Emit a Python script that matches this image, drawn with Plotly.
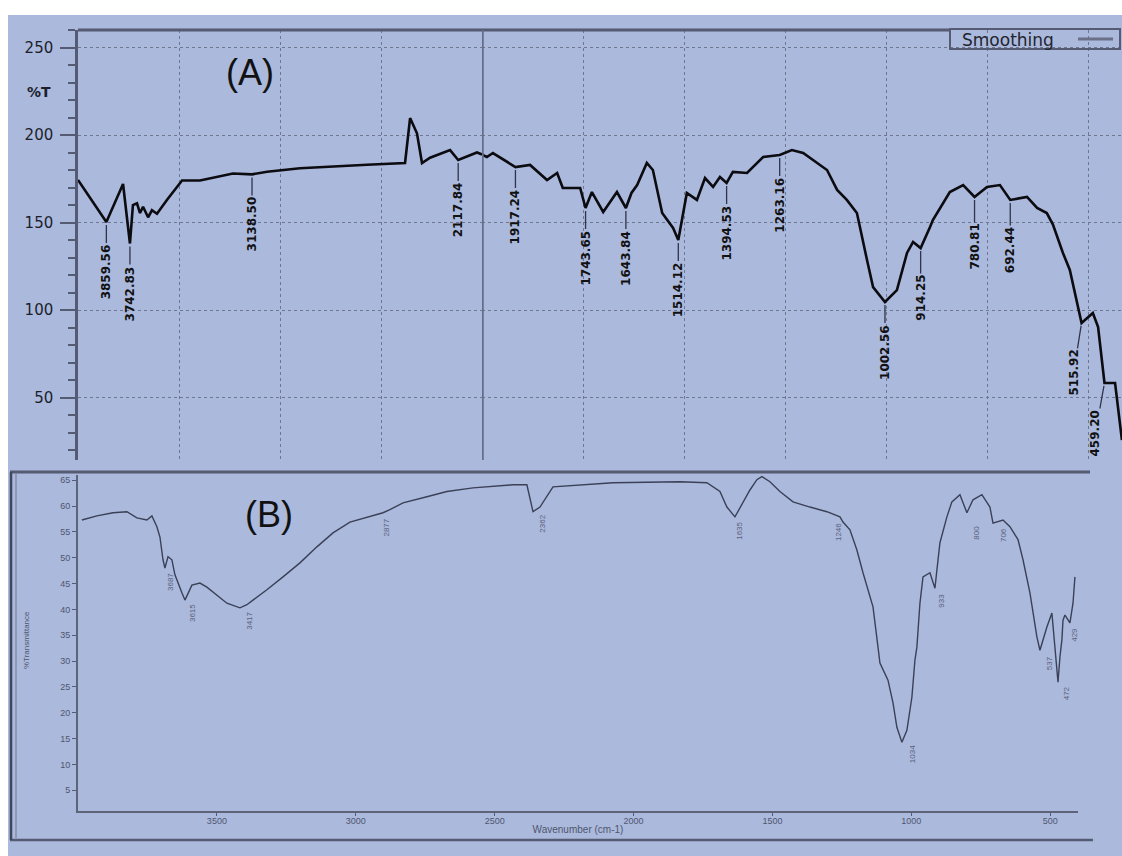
import plotly.graph_objects as go

W, H = 1122, 856


def fx(p):
    return p / W


def fy(p):
    return 1 - p / H


BG = "#ABB9DD"
DARK = "#1c1f2b"
FRAME = "#555b72"
GRID = "#6f7690"

# ---------------- Panel A: smoothed spectrum (%T) ----------------
a_wavenumber = [
    4000, 3859.56, 3777, 3742.83, 3728, 3708, 3693, 3678, 3653, 3634, 3609,
    3559, 3485, 3396, 3233, 3138.50, 3064, 2901, 2569, 2381, 2356, 2322, 2297,
    2257, 2158, 2117.84, 2025, 2000, 1988, 1973, 1917.24, 1881, 1839, 1814,
    1800, 1757, 1743.65, 1728, 1700, 1666, 1643.84, 1630, 1616, 1592, 1577,
    1554, 1527, 1514.12, 1493, 1468, 1448, 1428, 1411, 1394.53, 1379, 1344,
    1304, 1263.16, 1233, 1205, 1171, 1146, 1121, 1097, 1072, 1064, 1047, 1032,
    1002.56, 973, 948, 933, 914.25, 891, 884, 842, 809, 780.81, 750, 718,
    692.44, 651, 626, 602, 587, 562, 545, 515.92, 488, 475, 463, 459.20, 433,
    416,
]
a_transmittance = [
    174.3, 150.3, 172.0, 138.0, 160.0, 161.0, 155.4, 159.0, 153.0, 157.0, 155.0,
    163.0, 174.0, 174.0, 178.0, 177.5, 179.0, 181.0, 183.0, 184.0, 209.7, 201.0,
    184.0, 187.0, 191.4, 185.7, 190.0, 188.9, 187.4, 189.7, 181.7, 182.9, 174.3,
    178.3, 169.7, 169.7, 158.3, 167.4, 156.0, 167.4, 158.3, 166.9, 171.4, 184.0,
    180.0, 155.4, 146.9, 140.0, 166.9, 162.9, 175.4, 170.3, 176.0, 172.6, 178.9,
    178.3, 187.4, 188.6, 191.4, 189.7, 184.0, 180.0, 168.6, 162.9, 155.4, 147.4,
    128.6, 113.1, 104.6, 111.4, 132.6, 138.9, 135.4, 147.4, 151.4, 167.4, 171.4,
    164.6, 170.3, 171.4, 162.9, 164.6, 158.3, 155.4, 149.0, 132.6, 122.9, 92.6,
    98.3, 90.3, 64.0, 58.3, 58.3, 25.7,
]
a_peaks = [
    3859.56, 3742.83, 3138.50, 2117.84, 1917.24, 1743.65, 1643.84, 1514.12,
    1394.53, 1263.16, 1002.56, 914.25, 780.81, 692.44, 515.92, 459.20,
]
a_label_dx = [0, 0, 0, 0, 0, 0, 0, 0, 0, 0, 0, 0, 0, 0, -8, -9]
a_yticks = [50, 100, 150, 200, 250]
a_vgrid_high = [3500, 3000, 2500]
a_vgrid_low = [1750, 1500, 1250, 1000, 750, 500]

# ---------------- Panel B: %Transmittance ----------------
b_wavenumber = [
    3986, 3932, 3874, 3824, 3788, 3752, 3734, 3716, 3705, 3694, 3687, 3676,
    3662, 3651, 3626, 3615, 3590, 3561, 3536, 3500, 3464, 3417, 3392, 3370,
    3320, 3262, 3201, 3140, 3082, 3021, 2960, 2902, 2877, 2830, 2744, 2672,
    2578, 2434, 2384, 2362, 2337, 2290, 2074, 1833, 1736, 1689, 1664, 1635,
    1581, 1556, 1538, 1509, 1473, 1426, 1365, 1304, 1257, 1246, 1221, 1196,
    1174, 1138, 1120, 1113, 1084, 1066, 1052, 1034, 1016, 998, 987, 980, 969,
    958, 933, 915, 908, 897, 872, 854, 825, 800, 778, 746, 717, 706, 670, 645,
    616, 598, 573, 548, 537, 512, 494, 483, 472, 465, 458, 454, 447, 429, 418,
    411,
]
b_transmittance = [
    57.3, 58.1, 58.7, 58.9, 57.7, 57.3, 58.1, 56.0, 54.0, 49.6, 48.0, 50.2,
    49.6, 46.7, 43.2, 41.8, 44.7, 45.1, 44.3, 42.8, 41.2, 40.3, 40.9, 41.8,
    43.8, 46.3, 49.0, 52.1, 54.8, 56.9, 57.9, 58.7, 59.3, 60.6, 61.8, 62.8,
    63.5, 64.1, 64.1, 58.9, 59.8, 63.7, 64.5, 64.7, 64.5, 62.8, 59.8, 57.9,
    63.1, 65.1, 65.7, 64.7, 62.8, 60.8, 59.8, 58.9, 57.9, 56.9, 55.4, 51.5,
    47.1, 40.5, 32.7, 29.6, 26.3, 21.9, 17.2, 14.3, 16.6, 23.0, 30.2, 32.7, 41.2,
    46.3, 47.1, 44.1, 47.6, 52.9, 57.9, 60.8, 62.2, 58.7, 61.2, 62.2, 59.8,
    56.7, 57.3, 56.0, 53.5, 49.6, 43.2, 34.7, 32.1, 36.6, 39.3, 32.7, 25.9,
    30.8, 34.1, 37.9, 38.9, 37.4, 41.2, 46.3,
]
b_peaks = [3687, 3615, 3417, 2877, 2362, 1635, 1246, 1034, 933, 800, 706, 537, 472, 429]
b_label_shift = [
    (5, -14), (7, -13), (10, -13), (-3, -18), (10, -12), (5, -14), (-5, -10),
    (10, -12), (12, -28), (10, -20), (10, -12), (9, -13), (8, -11), (5, -12),
]
b_xticks = [3500, 3000, 2500, 2000, 1500, 1000, 500]
b_yticks = [5, 10, 15, 20, 25, 30, 35, 40, 45, 50, 55, 60, 65]

fig = go.Figure()

# Panel A is drawn on two x-axes: 4000-2000 compressed, 2000-400 expanded
hi_wn = [w for w in a_wavenumber if w >= 2000]
hi_t = [t for w, t in zip(a_wavenumber, a_transmittance) if w >= 2000]
lo_wn = [w for w in a_wavenumber if w <= 2000]
lo_t = [t for w, t in zip(a_wavenumber, a_transmittance) if w <= 2000]

line_a = dict(color="#0b0b10", width=2.6)
fig.add_trace(go.Scatter(x=hi_wn, y=hi_t, mode="lines", line=line_a,
                         xaxis="x", yaxis="y", showlegend=False, hoverinfo="skip"))
fig.add_trace(go.Scatter(x=lo_wn, y=lo_t, mode="lines", line=line_a,
                         xaxis="x2", yaxis="y", showlegend=False, hoverinfo="skip"))

fig.add_trace(go.Scatter(x=b_wavenumber, y=b_transmittance, mode="lines",
                         line=dict(color="#3a4056", width=1.4),
                         xaxis="x3", yaxis="y3", showlegend=False, hoverinfo="skip"))

a_top, a_bot = 30, 460
a_split = 482
px_per_unit_lo = 0.404
a_lo_end = 2000 - (W - a_split) / px_per_unit_lo

grid_common = dict(showgrid=True, gridcolor=GRID, griddash="dot", gridwidth=1.3,
                   zeroline=False)

fig.update_layout(
    width=W, height=H, autosize=False,
    margin=dict(l=0, r=0, t=0, b=0),
    paper_bgcolor=BG, plot_bgcolor="rgba(0,0,0,0)",
    font=dict(family="DejaVu Sans", color=DARK),
    xaxis=dict(domain=[fx(78), fx(a_split)], range=[4000, 2000], anchor="y",
               tickvals=a_vgrid_high, showticklabels=False, ticks="",
               showline=False, **grid_common),
    xaxis2=dict(domain=[fx(a_split), 1.0], range=[2000, a_lo_end], anchor="y",
                tickvals=a_vgrid_low, showticklabels=False, ticks="",
                showline=False, **grid_common),
    yaxis=dict(domain=[fy(a_bot), fy(a_top)], range=[14.3, 260], anchor="x",
               tickvals=a_yticks, ticks="outside", ticklen=15, tickwidth=2,
               tickcolor=FRAME, ticklabelstandoff=4,
               tickfont=dict(family="DejaVu Sans", size=15, color=DARK),
               showline=True, linecolor=FRAME, linewidth=2.5,
               minor=dict(tick0=0, dtick=10, ticks="outside", ticklen=7,
                          tickwidth=2, tickcolor=FRAME, showgrid=False),
               **grid_common),
    xaxis3=dict(domain=[fx(78), fx(1078)], range=[4000, 400], anchor="y3",
                tickvals=b_xticks, ticks="outside", ticklen=3, tickcolor=FRAME,
                ticklabelstandoff=-3,
                tickfont=dict(family="Liberation Sans", size=9, color="#4f566e"),
                showline=True, linecolor="#5d6379", linewidth=2,
                showgrid=False, zeroline=False,
                title=dict(text="Wavenumber (cm-1)", standoff=1,
                           font=dict(family="Liberation Sans", size=10, color="#4f566e"))),
    yaxis3=dict(domain=[fy(811), fy(475)], range=[1, 66], anchor="x3",
                tickvals=b_yticks, ticks="outside", ticklen=4, tickcolor=FRAME,
                tickfont=dict(family="Liberation Sans", size=9, color="#4f566e"),
                showline=True, linecolor="#5d6379", linewidth=2,
                showgrid=False, zeroline=False),
)

shapes = [
    # white scanner margins
    dict(type="rect", xref="paper", yref="paper", x0=0, x1=1, y0=fy(15), y1=1,
         fillcolor="white", line=dict(width=0), layer="below"),
    dict(type="rect", xref="paper", yref="paper", x0=0, x1=fx(8), y0=0, y1=1,
         fillcolor="white", line=dict(width=0), layer="below"),
    # panel A top frame and the scale-change divider at 2000
    dict(type="line", xref="paper", yref="paper", x0=fx(78), x1=fx(950),
         y0=fy(a_top), y1=fy(a_top), line=dict(color=FRAME, width=3)),
    dict(type="line", xref="x2", yref="paper", x0=2000, x1=2000,
         y0=fy(a_bot), y1=fy(a_top), line=dict(color="#676d86", width=3.5)),
    # legend box
    dict(type="rect", xref="paper", yref="paper", x0=fx(950), x1=fx(1120),
         y0=fy(49), y1=fy(29), line=dict(color=FRAME, width=2)),
    dict(type="line", xref="paper", yref="paper", x0=fx(1078), x1=fx(1113),
         y0=fy(39), y1=fy(39), line=dict(color="#6a7088", width=3)),
    # panel B frame
    dict(type="line", xref="paper", yref="paper", x0=fx(10), x1=fx(1090),
         y0=fy(472), y1=fy(472), line=dict(color=FRAME, width=3)),
    dict(type="line", xref="paper", yref="paper", x0=fx(10), x1=fx(1093),
         y0=fy(840), y1=fy(840), line=dict(color=FRAME, width=2.5)),
    dict(type="line", xref="paper", yref="paper", x0=fx(11), x1=fx(11),
         y0=fy(840), y1=fy(472), line=dict(color="#40465c", width=2.5)),
    dict(type="line", xref="paper", yref="paper", x0=fx(16), x1=fx(16),
         y0=fy(838), y1=fy(474), line=dict(color="#7d839b", width=1.2)),
]
fig.update_layout(shapes=shapes)


def paper_text(text, x, y, size, family="Liberation Sans", color="#111", angle=0):
    return dict(text=text, xref="paper", yref="paper", x=fx(x), y=fy(y),
                xanchor="center", yanchor="middle", textangle=angle,
                showarrow=False, font=dict(family=family, size=size, color=color))


ann = [
    paper_text("(A)", 250, 73, 36),
    paper_text("(B)", 269, 514, 36),
    paper_text("<b>%T</b>", 39, 92, 14, family="DejaVu Sans", color=DARK),
    paper_text("Smoothing", 1008, 40, 17, family="DejaVu Sans", color="#22252f"),
    paper_text("%Transmittance", 26, 640, 8, color="#4f566e", angle=-90),
]

lookup_a = dict(zip(a_wavenumber, a_transmittance))
for wn, dx in zip(a_peaks, a_label_dx):
    ann.append(dict(
        text=f"<b>{wn:.2f}</b>", x=wn, y=lookup_a[wn],
        xref="x" if wn >= 2000 else "x2", yref="y",
        textangle=-90, showarrow=True, arrowhead=0, arrowwidth=1.3,
        arrowcolor="#30344a", ax=dx, ay=50, standoff=3,
        font=dict(family="DejaVu Sans", size=12, color="#111"),
    ))

lookup_b = dict(zip(b_wavenumber, b_transmittance))
for wn, (sx, sy) in zip(b_peaks, b_label_shift):
    ann.append(dict(
        text=f"{wn}", x=wn, y=lookup_b[wn], xref="x3", yref="y3",
        xanchor="center", yanchor="middle",
        textangle=-90, showarrow=False, xshift=sx, yshift=sy,
        font=dict(family="Liberation Sans", size=8, color="#5b627c"),
    ))

fig.update_layout(annotations=ann)

fig.write_html("out.html")
